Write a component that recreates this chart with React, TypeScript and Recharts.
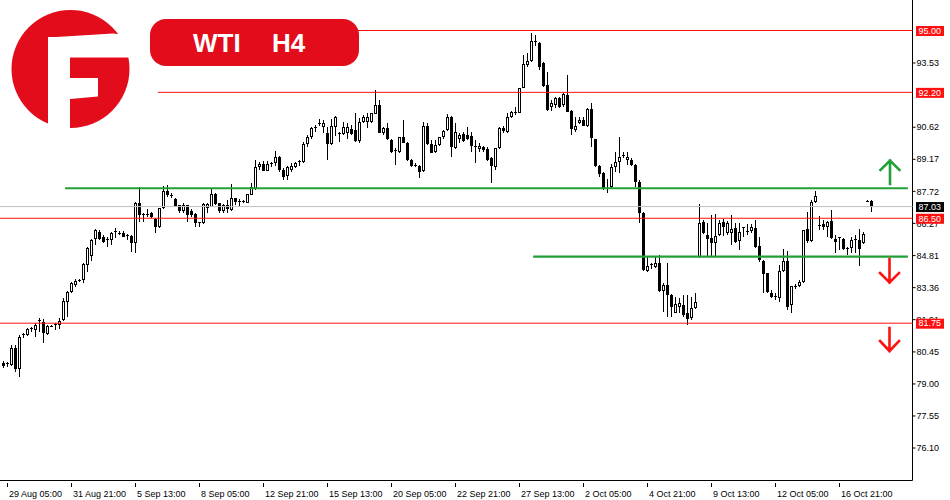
import { Bar, ComposedChart, ReferenceLine, XAxis, YAxis } from 'recharts'

// H4 candles, oldest first (29 Aug 01:00 ... 18 Oct 05:00)
const opens = [
  79.95, 79.9, 79.86, 80.63, 79.68, 81.17, 81.22, 81.49, 81.44, 81.76, 81.8, 81.26, 81.62, 81.62, 81.67, 81.89,
  82.71, 83.16, 83.48, 83.7, 83.7, 84.39, 84.79, 85.56, 85.88, 85.65, 85.52, 85.52, 85.88, 85.83, 85.83, 85.74,
  85.7, 85.38, 87.19, 86.65, 86.69, 86.74, 86.47, 86.1, 86.96, 87.74, 87.55, 87.37, 87.1, 86.83, 87.1, 86.83,
  86.69, 86.29, 86.29, 86.96, 87.01, 87.6, 87.19, 86.83, 87.1, 86.87, 87.42, 87.24, 87.24, 87.19, 87.55, 87.83,
  88.82, 88.96, 88.64, 88.96, 89.0, 89.27, 88.68, 88.41, 88.68, 88.82, 88.96, 89.05, 89.86, 90.18, 90.54, 90.77,
  90.63, 90.36, 89.86, 90.63, 90.32, 90.32, 90.36, 90.54, 90.5, 90.0, 90.86, 90.86, 90.86, 91.22, 91.63, 90.36,
  90.59, 90.04, 89.5, 89.5, 90.18, 89.91, 89.14, 88.91, 88.87, 88.64, 90.68, 89.86, 89.5, 89.82, 90.18, 90.5,
  91.08, 89.68, 90.09, 90.32, 90.27, 90.22, 89.73, 89.64, 89.73, 89.64, 89.23, 88.82, 89.68, 90.59, 90.4, 91.08,
  91.27, 91.27, 92.39, 93.44, 93.62, 94.48, 94.43, 93.53, 92.53, 91.54, 91.63, 91.94, 91.63, 92.08, 91.36, 90.5,
  90.81, 90.95, 90.68, 91.45, 90.09, 88.87, 88.55, 87.83, 87.92, 88.82, 89.05, 89.32, 89.14, 89.14, 88.91, 88.14,
  86.74, 84.11, 84.39, 84.29, 84.48, 83.21, 83.48, 83.03, 82.21, 82.48, 82.57, 82.21, 81.98, 82.44, 84.75, 86.33,
  85.74, 85.61, 85.38, 85.74, 86.33, 85.83, 85.83, 86.06, 85.47, 86.06, 85.92, 85.92, 86.06, 85.24, 84.57, 84.02,
  83.12, 82.98, 82.89, 84.11, 84.57, 82.57, 83.39, 83.43, 83.61, 86.01, 85.47, 87.24, 86.19, 86.24, 86.1, 86.38,
  85.56, 85.52, 85.56, 85.11, 85.15, 85.52, 85.52, 85.38, 87.28, 87.28,
]
const highs = [
  80.04, 79.99, 80.76, 80.76, 81.22, 81.31, 81.53, 81.58, 81.76, 81.98, 81.94, 81.67, 81.67, 81.76, 81.98, 82.89,
  83.2, 83.61, 83.75, 83.75, 84.48, 85.2, 85.56, 86.01, 85.97, 85.74, 85.65, 85.88, 86.06, 85.92, 85.92, 85.79,
  85.74, 87.24, 87.92, 86.74, 86.92, 86.78, 86.51, 86.96, 87.96, 88.01, 87.65, 87.42, 87.1, 87.19, 87.1, 86.92,
  86.74, 86.33, 87.19, 87.19, 87.87, 87.65, 87.19, 87.15, 87.33, 88.05, 87.42, 87.37, 87.33, 87.6, 88.1, 89.14,
  89.05, 89.09, 89.09, 89.05, 89.55, 89.32, 88.77, 88.87, 89.0, 89.05, 89.14, 89.95, 90.27, 90.63, 90.72, 90.99,
  90.95, 90.63, 90.99, 91.13, 90.4, 90.86, 90.81, 90.72, 91.27, 91.04, 91.17, 91.27, 91.27, 92.3, 91.85, 90.63,
  90.81, 90.09, 89.68, 90.18, 90.95, 89.95, 89.18, 89.0, 88.91, 90.86, 90.81, 90.04, 90.04, 90.18, 90.5, 91.22,
  91.13, 90.81, 90.36, 90.4, 90.63, 90.4, 90.04, 89.91, 89.77, 89.73, 89.27, 89.68, 90.63, 90.68, 91.27, 91.36,
  91.54, 92.39, 93.89, 93.98, 94.89, 94.8, 94.48, 93.57, 93.12, 91.85, 91.99, 91.99, 92.17, 92.98, 91.4, 91.08,
  91.08, 91.08, 91.49, 91.72, 90.09, 88.91, 88.59, 88.28, 88.96, 89.5, 90.18, 89.5, 89.5, 89.23, 88.96, 88.23,
  86.78, 84.75, 84.48, 84.75, 84.84, 83.57, 84.48, 83.07, 82.94, 82.89, 83.03, 83.03, 82.94, 83.12, 87.15, 86.42,
  86.29, 86.65, 86.69, 86.42, 86.47, 86.38, 86.65, 86.29, 86.29, 86.1, 86.24, 86.24, 86.42, 85.65, 84.61, 84.02,
  83.25, 83.12, 84.39, 85.11, 85.02, 83.43, 83.52, 83.7, 85.97, 86.78, 87.33, 87.74, 86.6, 86.42, 86.38, 86.87,
  85.74, 85.65, 85.61, 85.2, 85.65, 85.74, 86.01, 85.88, 87.33, 87.33,
]
const lows = [
  79.72, 79.77, 79.81, 79.54, 79.31, 81.08, 81.17, 81.35, 81.12, 81.35, 80.85, 81.22, 81.58, 81.44, 81.49, 81.85,
  82.03, 83.12, 83.39, 83.61, 83.57, 84.07, 84.57, 85.29, 85.52, 85.38, 85.2, 85.29, 85.61, 85.74, 85.65, 85.52,
  84.97, 84.93, 86.33, 86.33, 86.56, 86.51, 85.83, 86.06, 86.92, 87.46, 87.42, 87.01, 86.74, 86.74, 86.33, 86.56,
  86.1, 86.1, 86.24, 86.74, 87.01, 87.1, 86.74, 86.74, 86.74, 86.83, 87.1, 87.01, 87.19, 87.19, 87.55, 87.78,
  88.68, 88.64, 88.64, 88.82, 88.87, 88.59, 88.23, 88.23, 88.59, 88.77, 88.87, 89.0, 89.73, 90.09, 90.4, 90.68,
  90.36, 89.14, 89.82, 90.22, 89.95, 90.27, 90.09, 90.27, 89.95, 89.91, 90.81, 90.59, 90.81, 91.22, 90.36, 90.27,
  90.04, 89.45, 88.91, 89.45, 89.91, 89.09, 88.82, 88.82, 88.32, 88.59, 89.82, 89.45, 89.45, 89.77, 90.09, 90.45,
  89.27, 89.64, 89.91, 89.95, 90.04, 89.5, 89.0, 89.5, 89.5, 89.09, 88.1, 88.68, 89.64, 90.36, 90.36, 91.04,
  91.17, 91.27, 92.39, 93.35, 93.57, 94.3, 93.21, 92.44, 91.36, 91.36, 91.49, 91.49, 91.54, 91.31, 90.27, 90.4,
  90.77, 90.68, 90.63, 89.73, 88.82, 88.37, 87.78, 87.64, 87.87, 88.59, 88.55, 89.23, 88.91, 88.87, 87.92, 86.29,
  84.11, 84.07, 84.2, 84.25, 83.16, 82.26, 82.03, 82.03, 82.21, 82.21, 82.03, 81.67, 81.89, 82.39, 84.7, 85.79,
  84.79, 84.75, 84.79, 85.7, 85.7, 85.74, 85.29, 85.38, 85.06, 85.65, 85.74, 85.83, 85.15, 84.52, 83.12, 83.12,
  82.89, 82.8, 82.71, 84.07, 82.35, 82.21, 83.3, 83.39, 83.57, 85.38, 85.43, 87.19, 85.97, 85.97, 85.65, 85.56,
  84.93, 85.06, 85.06, 84.84, 84.93, 84.93, 84.34, 85.34, 87.24, 86.78,
]
const closes = [
  79.81, 79.92, 80.63, 79.68, 81.12, 81.26, 81.49, 81.47, 81.67, 81.85, 81.31, 81.62, 81.6, 81.67, 81.85, 82.76,
  83.16, 83.57, 83.66, 83.68, 84.43, 85.15, 85.52, 85.97, 85.56, 85.43, 85.47, 85.83, 85.86, 85.81, 85.65, 85.65,
  85.38, 87.19, 86.65, 86.62, 86.67, 86.56, 86.1, 86.96, 87.74, 87.55, 87.46, 87.01, 86.83, 87.1, 86.65, 86.65,
  86.29, 86.24, 87.15, 87.15, 87.6, 87.15, 86.83, 87.1, 86.92, 87.42, 87.24, 87.21, 87.19, 87.6, 87.92, 88.82,
  88.96, 88.64, 88.96, 89.0, 89.27, 88.68, 88.37, 88.82, 88.87, 89.0, 89.05, 89.86, 90.18, 90.59, 90.63, 90.68,
  90.81, 89.86, 90.68, 91.08, 90.29, 90.63, 90.63, 90.32, 90.0, 90.86, 91.08, 91.08, 91.27, 91.63, 90.36, 90.59,
  90.09, 89.5, 89.55, 90.18, 89.91, 89.14, 88.87, 88.89, 88.59, 90.68, 89.86, 89.45, 89.82, 90.18, 90.45, 91.08,
  89.73, 90.4, 90.27, 90.0, 90.09, 89.77, 89.64, 89.77, 89.59, 89.14, 88.87, 89.68, 90.59, 90.45, 91.08, 91.31,
  91.29, 92.39, 93.48, 93.62, 94.52, 94.39, 93.35, 92.49, 91.4, 91.72, 91.94, 91.54, 92.13, 91.31, 90.54, 90.68,
  90.95, 90.68, 91.45, 90.13, 88.87, 88.5, 87.83, 87.87, 88.82, 89.05, 89.27, 89.27, 89.27, 88.91, 88.14, 86.74,
  84.16, 84.34, 84.36, 84.48, 83.21, 83.48, 83.03, 82.48, 82.62, 82.67, 82.12, 81.94, 82.44, 82.71, 86.29, 85.83,
  85.56, 85.38, 85.7, 86.29, 86.1, 86.29, 86.01, 85.43, 85.88, 86.01, 85.83, 86.1, 85.2, 84.61, 83.97, 83.16,
  82.94, 82.89, 84.11, 84.57, 82.48, 83.43, 83.43, 83.61, 85.97, 85.47, 87.24, 87.51, 86.17, 86.1, 86.33, 85.61,
  85.43, 85.61, 85.11, 85.15, 85.52, 85.5, 85.11, 85.79, 87.26, 87.03,
]

// bar indices that carry a time label, and the labels
const tickIndex = [1, 17, 33, 49, 65, 81, 97, 113, 129, 145, 161, 177, 193, 209]
const tickLabels = [
  '29 Aug 05:00', '31 Aug 21:00', '5 Sep 13:00', '8 Sep 05:00', '12 Sep 21:00', '15 Sep 13:00', '20 Sep 05:00',
  '22 Sep 21:00', '27 Sep 13:00', '2 Oct 05:00', '4 Oct 21:00', '9 Oct 13:00', '12 Oct 05:00', '16 Oct 21:00',
]
// price grid (the ones under the 95.00 and 92.20 tags are not visible in the reference)
const priceTicks = [76.1, 77.55, 79.0, 80.45, 81.91, 83.36, 84.81, 86.27, 87.72, 89.17, 90.62, 93.53]

// horizontal levels
const redLevels = [95.0, 92.2, 86.5, 81.75]
const lastPrice = 87.03
const greenLevels = [87.86, 84.76]

const data = opens.map((open, i) => ({
  i,
  open,
  high: highs[i],
  low: lows[i],
  close: closes[i],
  range: [lows[i], highs[i]],
}))

const RED = '#ff1010'
const BRAND = '#e20c1b'
const GREEN = '#22a038'
const FONT = '"Liberation Sans", Arial, sans-serif'
const X_DOMAIN = [-0.875, 227.25]
const Y_DOMAIN = [74.629, 96.381]

function Candle(props: any) {
  const { x, y, width, height } = props
  const p = props.payload ?? props
  const { open, high, low, close } = p
  const cx = x + width / 2
  const k = height / (high - low)
  const yOf = (v: number) => y + (high - v) * k
  const top = yOf(Math.max(open, close))
  const bot = yOf(Math.min(open, close))
  const up = close >= open
  const h = bot - top
  return (
    <g shapeRendering="crispEdges">
      <line x1={cx} x2={cx} y1={yOf(high)} y2={yOf(low)} stroke="#000" strokeWidth={1} />
      {h < 2 ? (
        <rect x={cx - 1.5} y={top - 0.5} width={3} height={1} fill="#000" />
      ) : up ? (
        <rect x={cx - 1} y={top + 0.5} width={2} height={h - 1} fill="#fff" stroke="#000" strokeWidth={1} />
      ) : (
        <rect x={cx - 1.5} y={top} width={3} height={h} fill="#000" />
      )}
    </g>
  )
}

function TimeTick(props: any) {
  const { x, y, payload } = props
  const label = tickLabels[tickIndex.indexOf(payload.value)]
  const y0 = Math.round(y)
  return (
    <g>
      <line x1={x} x2={x} y1={y0} y2={y0 + 4} stroke="#000" />
      <text x={x + 1.5} y={y0 + 13.5} fontSize={9} fontFamily={FONT} fill="#000">
        {label}
      </text>
    </g>
  )
}

const tag = (text: string, fill: string) => (props: any) => {
  const vb = props.viewBox
  const ly = vb.y
  const x = vb.x + vb.width + 3.5
  return (
    <g>
      <rect x={x} y={ly - 4.5} width={28} height={10} fill={fill} />
      <text x={x + 2.5} y={ly + 3.3} fontSize={9} fontFamily={FONT} fill="#fff">
        {text}
      </text>
    </g>
  )
}

function Overlay() {
  return (
    <svg width={950} height={500} style={{ position: 'absolute', left: 0, top: 0, pointerEvents: 'none' }}>
      {/* logo */}
      <circle cx={70.5} cy={69} r={59} fill={BRAND} />
      <rect x={48} y={37} width={22} height={100} fill="#fff" />
      <polygon points="48,37.5 113,33.5 117,34 140,34 140,57.5 48,57.5" fill="#fff" />
      <polygon points="70,78 98,78 98,96.5 70,99" fill="#fff" />
      {/* title */}
      <rect x={150} y={19} width={209} height={47} rx={16} fill={BRAND} />
      <text x={193} y={52} fontSize={26} fontWeight="bold" fontFamily={FONT} fill="#fff">WTI</text>
      <text x={272} y={52} fontSize={26} fontWeight="bold" fontFamily={FONT} fill="#fff">H4</text>
      {/* arrows */}
      <g fill="none" strokeWidth={2.6} strokeLinecap="square">
        <path d="M890,184 L890,160.5 M880.5,170 L890,160.5 L899.5,170" stroke={GREEN} />
        <path d="M889.5,259 L889.5,282.5 M880,273 L889.5,282.5 L899,273" stroke={RED} />
        <path d="M889.5,328 L889.5,351 M880,341 L889.5,351 L899,341" stroke={RED} />
      </g>
    </svg>
  )
}

// second chart with the same plot box, drawn on top so that the price tags cover the axis labels
function Levels() {
  return (
    <div style={{ position: 'absolute', left: 0, top: 0 }}>
      <ComposedChart width={950} height={500} data={data} margin={{ top: 0, right: 0, bottom: 0, left: 0 }}>
        <XAxis dataKey="i" type="number" domain={X_DOMAIN} allowDataOverflow height={19.5} tick={false} axisLine={false} tickLine={false} />
        <YAxis orientation="right" type="number" domain={Y_DOMAIN} allowDataOverflow width={37.5} tick={false} axisLine={false} tickLine={false} />
        <ReferenceLine y={lastPrice} stroke="#c0c0c0" strokeWidth={1} label={tag(lastPrice.toFixed(2), '#000')} />
        <ReferenceLine
          segment={[{ x: 88.6, y: redLevels[0] }, { x: 227.25, y: redLevels[0] }]}
          stroke={RED}
          label={tag(redLevels[0].toFixed(2), RED)}
        />
        <ReferenceLine
          segment={[{ x: 38.6, y: redLevels[1] }, { x: 227.25, y: redLevels[1] }]}
          stroke={RED}
          label={tag(redLevels[1].toFixed(2), RED)}
        />
        <ReferenceLine y={redLevels[2]} stroke={RED} label={tag(redLevels[2].toFixed(2), RED)} />
        <ReferenceLine y={redLevels[3]} stroke={RED} label={tag(redLevels[3].toFixed(2), RED)} />
        <ReferenceLine
          segment={[{ x: 15.4, y: greenLevels[0] }, { x: 226.1, y: greenLevels[0] }]}
          stroke={GREEN}
          strokeWidth={2.2}
        />
        <ReferenceLine
          segment={[{ x: 132.4, y: greenLevels[1] }, { x: 226.1, y: greenLevels[1] }]}
          stroke={GREEN}
          strokeWidth={2.2}
        />
      </ComposedChart>
    </div>
  )
}

export default function App() {
  return (
    <div style={{ position: 'absolute', left: 0, top: 0, width: 950, height: 500, background: '#fff' }}>
      <ComposedChart width={950} height={500} data={data} margin={{ top: 0, right: 0, bottom: 0, left: 0 }}>
        <XAxis
          dataKey="i"
          type="number"
          domain={X_DOMAIN}
          allowDataOverflow
          ticks={tickIndex}
          interval={0}
          height={19.5}
          tickSize={0}
          tickLine={false}
          axisLine={{ stroke: '#000' }}
          tick={<TimeTick />}
        />
        <YAxis
          orientation="right"
          type="number"
          domain={Y_DOMAIN}
          allowDataOverflow
          ticks={priceTicks}
          interval={0}
          width={37.5}
          tickSize={3}
          tickMargin={1}
          axisLine={{ stroke: '#000' }}
          tickLine={{ stroke: '#000' }}
          tick={{ fontSize: 9, fill: '#000', fontFamily: FONT }}
          tickFormatter={(v: number) => v.toFixed(2)}
        />
        <Bar dataKey="range" barSize={3} shape={<Candle />} isAnimationActive={false} />
      </ComposedChart>
      <Levels />
      <Overlay />
    </div>
  )
}
